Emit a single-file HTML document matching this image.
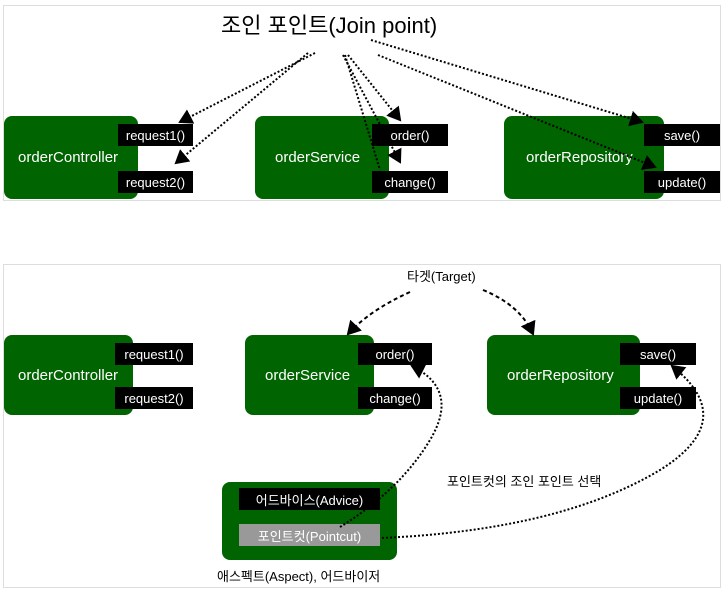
<!DOCTYPE html>
<html><head><meta charset="utf-8"><style>
body{margin:0;width:722px;height:592px;background:#fff;position:relative;overflow:hidden;font-family:"Liberation Sans","Noto Sans CJK KR",sans-serif}
.p{position:absolute;border:1px solid #ddd}
.g{position:absolute;background:#006400;border-radius:8px;color:#fff;font-size:15px;display:flex;align-items:center}
.b{position:absolute;background:#000;color:#fff;font-size:13px;display:flex;align-items:center;justify-content:center}
.t{position:absolute;white-space:nowrap}
</style></head><body>
<div class="p" style="left:3px;top:5px;width:716px;height:194px"></div>
<div class="p" style="left:3px;top:264px;width:716px;height:322px"></div>
<div class="t" style="left:221px;top:8px;font-size:22px">조인 포인트(Join point)</div>

<div class="g" style="left:4px;top:116px;width:134px;height:83px;padding-left:14px;box-sizing:border-box">orderController</div>
<div class="b" style="left:118px;top:124px;width:75px;height:22px">request1()</div>
<div class="b" style="left:118px;top:171px;width:75px;height:22px">request2()</div>
<div class="g" style="left:255px;top:116px;width:134px;height:83px;padding-left:20px;box-sizing:border-box">orderService</div>
<div class="b" style="left:372px;top:124px;width:76px;height:22px">order()</div>
<div class="b" style="left:372px;top:171px;width:76px;height:22px">change()</div>
<div class="g" style="left:504px;top:116px;width:160px;height:83px;padding-left:22px;box-sizing:border-box">orderRepository</div>
<div class="b" style="left:644px;top:124px;width:76px;height:22px">save()</div>
<div class="b" style="left:644px;top:171px;width:76px;height:22px">update()</div>

<div class="t" style="left:407px;top:266px;font-size:13px">타겟(Target)</div>
<div class="g" style="left:4px;top:335px;width:129px;height:80px;padding-left:14px;box-sizing:border-box">orderController</div>
<div class="b" style="left:115px;top:343px;width:78px;height:22px">request1()</div>
<div class="b" style="left:115px;top:387px;width:78px;height:22px">request2()</div>
<div class="g" style="left:245px;top:335px;width:129px;height:80px;padding-left:20px;box-sizing:border-box">orderService</div>
<div class="b" style="left:358px;top:343px;width:74px;height:22px">order()</div>
<div class="b" style="left:358px;top:387px;width:74px;height:22px">change()</div>
<div class="g" style="left:487px;top:335px;width:153px;height:80px;padding-left:20px;box-sizing:border-box">orderRepository</div>
<div class="b" style="left:620px;top:343px;width:76px;height:22px">save()</div>
<div class="b" style="left:620px;top:387px;width:76px;height:22px">update()</div>

<div class="g" style="left:222px;top:482px;width:175px;height:78px"></div>
<div class="b" style="left:239px;top:488px;width:141px;height:22px">어드바이스(Advice)</div>
<div class="b" style="left:239px;top:524px;width:141px;height:22px;background:#999">포인트컷(Pointcut)</div>
<div class="t" style="left:217px;top:566px;font-size:13px">애스펙트(Aspect), 어드바이저</div>
<div class="t" style="left:447px;top:471px;font-size:13px">포인트컷의 조인 포인트 선택</div>

<svg width="722" height="592" style="position:absolute;left:0;top:0">
<defs><marker id="a" markerWidth="8" markerHeight="8" refX="6" refY="4" orient="auto"><path d="M0,0 L7,4 L0,8 z" fill="#000"/></marker></defs>
<g fill="none" stroke="#000" stroke-width="2" stroke-dasharray="2,2" marker-end="url(#a)">
<path d="M308,53 L176,163"/>
<path d="M315,53 L180,122"/>
<path d="M343,55 L400,162"/>
<path d="M348,55 L400,120"/>
<path d="M371,40 L642,122"/>
<path d="M378,55 L655,167"/>
<path d="M345,55 L380,170" marker-end="none"/>
</g>
<g fill="none" stroke="#000" stroke-width="2" stroke-dasharray="4,3" marker-end="url(#a)">
<path d="M410,292 Q370,310 348,334"/>
<path d="M483,290 Q520,305 533,334"/>
</g>
<g fill="none" stroke="#000" stroke-width="2" stroke-dasharray="2,2" marker-end="url(#a)">
<path d="M340,527 Q400,490 430,440 Q460,390 412,366"/>
<path d="M382,538 Q560,530 660,470 Q740,420 672,366"/>
</g>
</svg>
</body></html>
